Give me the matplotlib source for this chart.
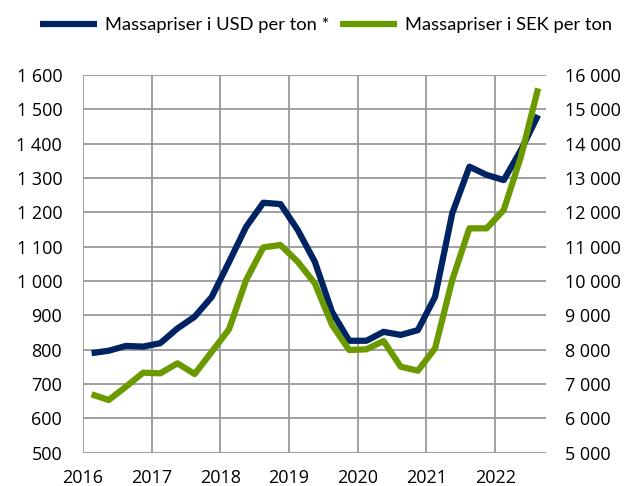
import matplotlib
matplotlib.use("Agg")
import matplotlib.pyplot as plt
from matplotlib.ticker import FixedLocator, FuncFormatter

plt.rcParams['font.family'] = ['Open Sans', 'DejaVu Sans']

# quarterly points, mid-quarter
dates = [2016.125 + 0.25 * i for i in range(27)]
usd = [790, 797, 811, 809, 819, 862, 896, 954, 1055, 1158, 1228, 1224, 1149,
       1056, 910, 826, 826, 852, 843, 857, 954, 1197, 1333, 1309, 1294, 1381, 1483]
sek = [6700, 6535, 6922, 7330, 7312, 7603, 7292, 7941, 8593, 10029, 10981, 11048,
       10562, 9933, 8719, 7991, 8011, 8253, 7505, 7388, 8040, 10029, 11534, 11534,
       12068, 13620, 15611]
years = [2016, 2017, 2018, 2019, 2020, 2021, 2022]

navy = '#002463'
green = '#6a9a00'
grid_col = '#999999'

def sp(v, pos=None):
    return f"{int(v):,}".replace(",", " ")

fig = plt.figure(figsize=(6.27, 4.86), dpi=100)
ax = fig.add_axes([0.1324, 0.0685, 0.7384, 0.7772])
ax2 = ax.twinx()

l1, = ax.plot(dates, usd, color=navy, lw=4.5, solid_capstyle='butt', zorder=3)
l2, = ax2.plot(dates, sek, color=green, lw=4.5, solid_capstyle='butt', zorder=3)

ax.set_xlim(2016, 2022.74)
ax.set_ylim(500, 1600)
ax2.set_ylim(5000, 16000)
ax.set_yticks(range(500, 1601, 100))
ax2.set_yticks(range(5000, 16001, 1000))
ax.xaxis.set_major_locator(FixedLocator(years))
ax.yaxis.set_major_formatter(FuncFormatter(sp))
ax2.yaxis.set_major_formatter(FuncFormatter(sp))
ax.set_xticklabels([str(y) for y in years])

for a in (ax, ax2):
    for s in a.spines.values():
        s.set_visible(False)
    a.tick_params(length=0, labelsize=13, colors='black')
ax.tick_params(axis='y', pad=15)
ax2.tick_params(axis='y', pad=13.5)
ax.tick_params(axis='x', pad=12)
ax.grid(True, color=grid_col, lw=1.3)
ax.set_axisbelow(True)

fig.legend([l1, l2], ['Massapriser i USD per ton *', 'Massapriser i SEK per ton'],
           loc='upper center', bbox_to_anchor=(0.52, 1.0), ncol=2, frameon=False,
           prop={'family': ['Lato', 'DejaVu Sans'], 'size': 13.2},
           handlelength=3.1, handletextpad=0.45, columnspacing=0.6,
           borderaxespad=0.55)

fig.savefig('out.png', dpi=100)
